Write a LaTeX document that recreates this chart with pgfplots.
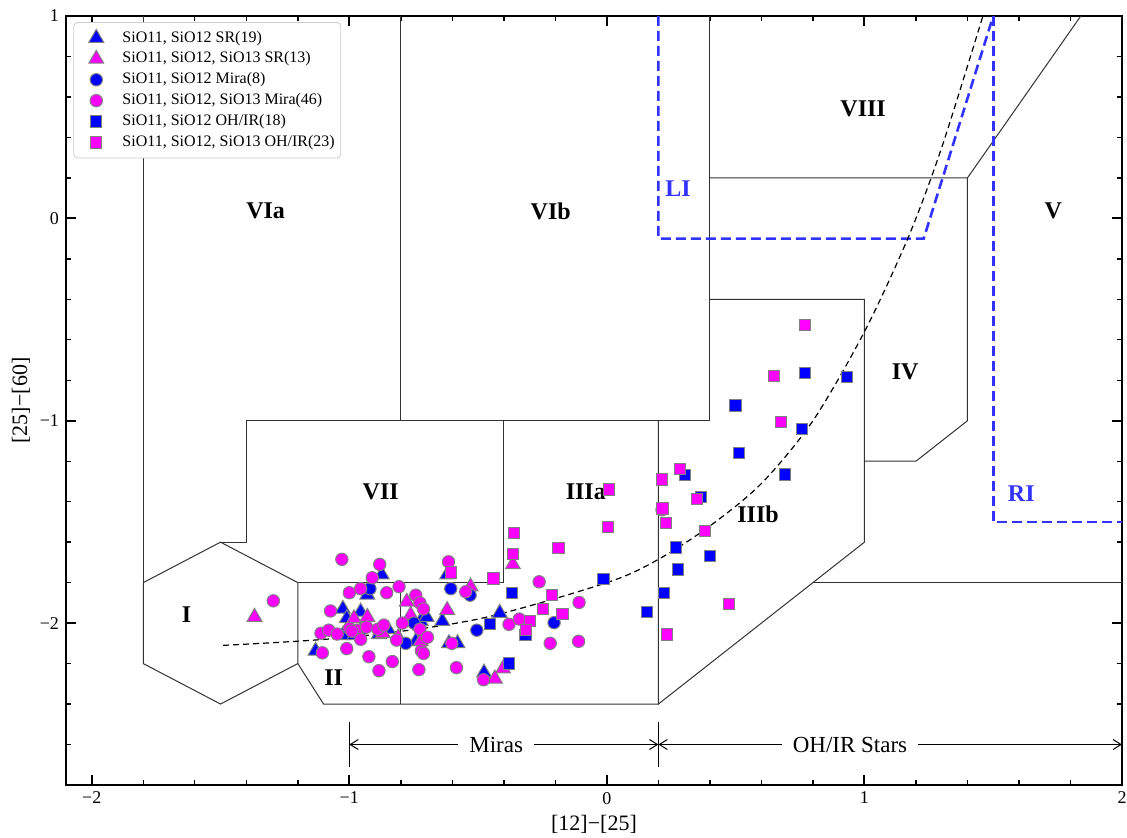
\documentclass[border=0pt]{standalone}
\usepackage{fontspec}
\setmainfont{Liberation Serif}
\usepackage{pgfplots}
\pgfplotsset{compat=1.18}
\usetikzlibrary{arrows.meta}
\definecolor{pblue}{RGB}{0,0,255}
\definecolor{pmag}{RGB}{255,0,255}
\definecolor{edge}{RGB}{128,128,128}
\definecolor{lblue}{RGB}{51,51,255}
\definecolor{reg}{RGB}{50,50,50}
\begin{document}
\begin{tikzpicture}
\begin{axis}[
    name=ax,
    width=528pt, height=384.5pt, scale only axis,
    xmin=-2.1, xmax=2, ymin=-2.8, ymax=1,
    xtick={-2,-1,0,1,2}, xticklabels={−2,−1,0,1,2},
    ytick={-2,-1,0,1}, yticklabels={−2,−1,0,1},
    minor xtick={-2,-1.8,...,2},
    minor ytick={-2.8,-2.6,...,1},
    tick align=inside,
    major tick length=5pt, minor tick length=2.5pt,
    major tick style={black, line width=1pt},
    minor tick style={black, line width=0.7pt},
    axis line style={line width=1.2pt},
    ticklabel style={font=\fontsize{9}{10}\selectfont},
    xlabel={[12]−[25]}, ylabel={[25]−[60]},
    label style={font=\fontsize{11}{12}\selectfont},
    xlabel shift=-1.5pt, ylabel shift=-2pt,
    legend cell align=left,
    legend image code/.code={
        \path[draw=none, fill=none] (0cm,-0.1cm) rectangle (0.75cm,0.1cm);
        \draw[only marks] plot coordinates {(0.36cm,0cm)};},
    legend style={at={(0.007,0.992)}, anchor=north west,
        draw=black!20, rounded corners=2pt,
        font=\fontsize{8}{10}\selectfont, row sep=1pt,
        nodes={inner ysep=1.2pt},
        inner xsep=1pt, inner ysep=3pt},
    region/.style={reg, line width=0.5pt, forget plot},
    tri/.style={only marks, mark=triangle*, mark size=4.3pt,
        mark options={draw=edge, line width=0.5pt, fill=#1}},
    circ/.style={only marks, mark=*, mark size=3.1pt,
        mark options={draw=edge, line width=0.5pt, fill=#1}},
    sq/.style={only marks, mark=square*, mark size=2.8pt,
        mark options={draw=edge, line width=0.5pt, fill=#1}},
]
% region boundaries
\addplot[region] coordinates {(-1.8,-1.8) (-1.5,-1.6) (-1.2,-1.8) (-1.2,-2.2) (-1.5,-2.4) (-1.8,-2.2) (-1.8,-1.8)};
\addplot[region] coordinates {(-1.8,1) (-1.8,-1.8)};
\addplot[region] coordinates {(-1.5,-1.6) (-1.4,-1.6) (-1.4,-1.0) (0.4,-1.0)};
\addplot[region] coordinates {(-0.8,1) (-0.8,-1.0)};
\addplot[region] coordinates {(-0.4,-1.0) (-0.4,-1.8) (-1.2,-1.8)};
\addplot[region] coordinates {(-1.2,-2.2) (-1.1,-2.4) (0.2,-2.4)};
\addplot[region] coordinates {(-0.8,-1.8) (-0.8,-2.4)};
\addplot[region] coordinates {(0.2,-1.0) (0.2,-2.4) (1.0,-1.6) (1.0,-0.4) (0.4,-0.4)};
\addplot[region] coordinates {(0.4,1) (0.4,-1.0)};
\addplot[region] coordinates {(0.4,0.2) (1.4,0.2) (1.4,-1.0) (1.2,-1.2) (1.0,-1.2)};
\addplot[region] coordinates {(1.4,0.2) (1.84,1.0)};
\addplot[region] coordinates {(0.8,-1.8) (2.0,-1.8)};
% LI and RI
\addplot[lblue, line width=1.3pt, dash pattern=on 5pt off 2.5pt, forget plot] coordinates {(0.2,1) (0.2,-0.1) (1.23,-0.1) (1.5,1)};
\addplot[lblue, line width=1.3pt, dash pattern=on 5pt off 2.5pt, forget plot] coordinates {(1.5,1) (1.5,-1.5) (2.0,-1.5)};
% track
\addplot[black, line width=0.6pt, dash pattern=on 3pt off 2pt, smooth, forget plot] coordinates {
(-1.49,-2.11) (-1.0,-2.07) (-0.5,-1.98) (0,-1.80) (0.2,-1.685) (0.4,-1.52) (0.6,-1.31) (0.8,-1.0) (1.0,-0.56) (1.17,-0.094) (1.3,0.35) (1.46,1.0)};
% Miras / OH-IR arrows
\addplot[black, line width=0.5pt, forget plot] coordinates {(-1,-2.49) (-1,-2.71)};
\addplot[black, line width=0.5pt, forget plot] coordinates {(0.2,-2.49) (0.2,-2.71)};
\addplot[black, line width=0.5pt, {Straight Barb[length=4pt,width=5pt]}-{Straight Barb[length=4pt,width=5pt]}, forget plot] coordinates {(-1,-2.6) (0.2,-2.6)};
\addplot[black, line width=0.5pt, {Straight Barb[length=4pt,width=5pt]}-{Straight Barb[length=4pt,width=5pt]}, forget plot] coordinates {(0.2,-2.6) (2.0,-2.6)};
\node[fill=white, inner xsep=5.5pt, inner ysep=1pt, font=\fontsize{11.5}{12}\selectfont] at (axis cs:-0.43,-2.6) {Miras};
\node[fill=white, inner xsep=5.5pt, inner ysep=1pt, font=\fontsize{11.5}{12}\selectfont] at (axis cs:0.944,-2.6) {OH/IR Stars};
% region labels
\begin{scope}[every node/.style={font=\bfseries\fontsize{12}{12}\selectfont}]
\node at (axis cs:-1.325,0.035) {VIa};
\node at (axis cs:-0.218,0.035) {VIb};
\node at (axis cs:0.995,0.543) {VIII};
\node at (axis cs:1.733,0.035) {V};
\node at (axis cs:1.158,-0.76) {IV};
\node at (axis cs:-0.878,-1.353) {VII};
\node at (axis cs:-0.082,-1.353) {IIIa};
\node at (axis cs:0.587,-1.46) {IIIb};
\node at (axis cs:-1.632,-1.96) {I};
\node at (axis cs:-1.061,-2.27) {II};
\node[text=lblue] at (axis cs:0.276,0.148) {LI};
\node[text=lblue] at (axis cs:1.609,-1.358) {RI};
\end{scope}
% data
\addplot[tri=pblue] coordinates {
(-0.874,-1.76) (-0.93,-1.86) (-1.025,-1.93) (-0.956,-1.944) (-1.025,-2.06)
(-1.131,-2.137) (-0.885,-2.055) (-1.01,-1.977) (-0.723,-1.99) (-0.742,-2.09)
(-0.613,-2.1) (-0.58,-2.1) (-0.639,-1.99) (-0.416,-1.95) (-0.477,-2.245)
(-0.62,-1.76) (-0.70,-1.97) (-0.85,-2.03) (-0.98,-2.06)};
\addlegendentry{SiO11, SiO12 SR(19)}
\addplot[tri=pmag] coordinates {
(-1.368,-1.97) (-0.982,-1.977) (-0.365,-1.71) (-0.529,-1.82) (-0.777,-1.895)
(-0.762,-1.96) (-0.62,-1.936) (-0.723,-2.09) (-0.403,-2.225) (-0.435,-2.275)
(-0.93,-1.97) (-0.87,-2.05) (-0.81,-2.07)};
\addlegendentry{SiO11, SiO12, SiO13 SR(13)}
\addplot[circ=pblue] coordinates {
(-0.92,-1.83) (-0.606,-1.83) (-0.531,-1.862) (-0.749,-2.0) (-0.781,-2.1)
(-0.505,-2.035) (-0.205,-1.998) (-0.95,-2.03)};
\addlegendentry{SiO11, SiO12 Mira(8)}
\addplot[circ=pmag] coordinates {
(-1.295,-1.89) (-1.029,-1.685) (-0.882,-1.71) (-0.911,-1.776) (-0.956,-1.83)
(-1.0,-1.85) (-0.855,-1.85) (-0.807,-1.82) (-1.073,-1.94) (-1.11,-2.05)
(-1.08,-2.035) (-1.047,-2.054) (-1.0,-2.026) (-0.969,-2.035) (-0.933,-2.02)
(-0.956,-2.08) (-0.889,-2.03) (-0.866,-2.01) (-1.01,-2.126) (-1.105,-2.147)
(-0.924,-2.166) (-0.833,-2.19) (-0.885,-2.235) (-0.816,-2.084) (-0.742,-1.862)
(-0.726,-1.90) (-0.712,-1.93) (-0.794,-2.0) (-0.726,-2.03) (-0.697,-2.07)
(-0.72,-2.137) (-0.73,-2.23) (-0.615,-1.697) (-0.263,-1.796) (-0.548,-1.845)
(-0.602,-2.1) (-0.584,-2.22) (-0.38,-2.006) (-0.34,-1.98) (-0.22,-2.1)
(-0.108,-1.898) (-0.11,-2.09) (-0.479,-2.28) (0.214,-1.44) (-0.712,-2.15)
(-0.99,-2.04)};
\addlegendentry{SiO11, SiO12, SiO13 Mira(46)}
\addplot[sq=pblue] coordinates {
(0.770,-0.764) (0.931,-0.783) (0.499,-0.925) (0.758,-1.04) (0.514,-1.159)
(0.693,-1.266) (0.303,-1.269) (0.365,-1.376) (0.268,-1.626) (0.40,-1.668)
(0.275,-1.735) (-0.013,-1.784) (0.223,-1.85) (0.155,-1.944) (-0.367,-1.85)
(-0.454,-2.006) (-0.38,-2.2) (-0.316,-2.06)};
\addlegendentry{SiO11, SiO12 OH/IR(18)}
\addplot[sq=pmag] coordinates {
(0.770,-0.528) (0.65,-0.78) (0.676,-1.006) (0.284,-1.24) (0.214,-1.29)
(0.008,-1.34) (0.35,-1.388) (0.216,-1.434) (0.229,-1.505) (0.005,-1.527)
(0.381,-1.546) (0.475,-1.906) (0.232,-2.056) (-0.36,-1.553) (-0.363,-1.66)
(-0.188,-1.63) (-0.44,-1.78) (-0.606,-1.75) (-0.214,-1.862) (-0.248,-1.93)
(-0.172,-1.957) (-0.298,-1.99) (-0.315,-2.035)};
\addlegendentry{SiO11, SiO12, SiO13 OH/IR(23)}
\end{axis}
\pgfresetboundingbox
\path ([xshift=-33pt,yshift=-26.5pt]ax.south west) rectangle ([xshift=2.5pt,yshift=8pt]ax.north east);
\end{tikzpicture}
\end{document}
